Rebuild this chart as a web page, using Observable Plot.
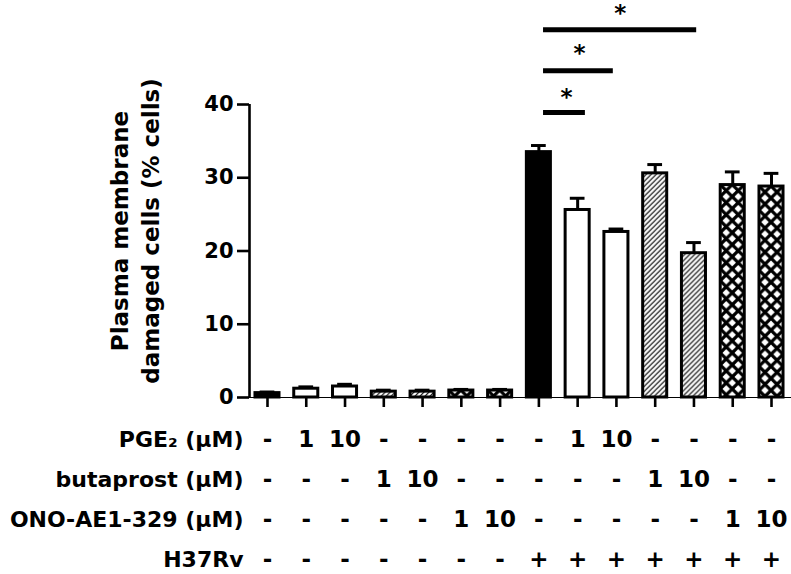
<!DOCTYPE html>
<html><head><meta charset="utf-8">
<script src="https://cdn.jsdelivr.net/npm/d3@7"></script>
<script src="https://cdn.jsdelivr.net/npm/@observablehq/plot@0.6"></script>
<style>
body{margin:0;background:#fff;}
#chart svg{display:block;}
#top [aria-label^="x-axis"] path, #top [aria-label^="x-axis"] line,
#top [aria-label^="y-axis"] path, #top [aria-label^="y-axis"] line {stroke-width:2.6px; stroke:#000;}
</style></head><body><div id="chart"><div id="top"></div><div id="table"></div></div>
<script>
// ---- data ----
const barIndex = [1,2,3,4,5,6,7,8,9,10,11,12,13,14];
const means = [0.6,1.2,1.5,0.8,0.8,0.95,0.95,33.5,25.6,22.6,30.6,19.7,29.0,28.8];
const sems  = [0.15,0.25,0.3,0.2,0.2,0.15,0.15,0.9,1.6,0.4,1.2,1.45,1.8,1.8];
const fillKind = ["solid","open","open","hatch","hatch","cross","cross","solid","open","open","hatch","hatch","cross","cross"];
const pge2      = ["-","1","10","-","-","-","-","-","1","10","-","-","-","-"];
const butaprost = ["-","-","-","1","10","-","-","-","-","-","1","10","-","-"];
const ono       = ["-","-","-","-","-","1","10","-","-","-","-","-","1","10"];
const h37rv     = ["-","-","-","-","-","-","-","+","+","+","+","+","+","+"];
const rowLabels = ["PGE\u2082 (\u00b5M)","butaprost (\u00b5M)","ONO-AE1-329 (\u00b5M)","H37Rv"];
const yTicks = [0,10,20,30,40];
const sigFrom  = [8.12, 8.12, 8.12];
const sigTo    = [9.2, 9.92, 12.07];
const sigLevel = [38.9, 44.6, 50.2];
const starX    = [8.71, 9.05, 10.1];
const starY    = [41.3, 47.3, 52.8];
const yTitle = "Plasma membrane\ndamaged cells (% cells)";

// ---- layout constants ----
const xDomain = [0.536, 14.49];
const yMax = 54.2;
const barHalf = 0.31, capHalf = 0.19;
const font = "DejaVu Sans";

const bars = barIndex.map((i, k) => ({i, mean: means[k], sem: sems[k], kind: fillKind[k]}));
const sig = sigFrom.map((f, k) => ({from: f, to: sigTo[k], level: sigLevel[k], sx: starX[k], sy: starY[k]}));
const fillOf = d => d.kind === "solid" ? "black" : d.kind === "open" ? "white" : `url(#pat${d.i})`;

const chartTop = Plot.plot({
  width: 791, height: 410,
  marginLeft: 249, marginRight: 1, marginTop: 0, marginBottom: 13,
  style: {fontFamily: font, fontSize: "21px", fontWeight: "bold", color: "black", background: "white"},
  color: {type: "identity"},
  x: {domain: xDomain, ticks: barIndex, tickSize: 10, tickFormat: () => "", label: null, line: true},
  y: {domain: [0, yMax], ticks: yTicks, tickSize: 12, tickPadding: 4, label: null},
  marks: [
    Plot.rectY(bars, {x1: d => d.i - barHalf, x2: d => d.i + barHalf, y1: 0, y2: "mean", fill: fillOf, stroke: "black", strokeWidth: 3}),
    Plot.ruleX(bars, {x: "i", y1: "mean", y2: d => d.mean + d.sem, stroke: "black", strokeWidth: 3}),
    Plot.ruleY(bars, {y: d => d.mean + d.sem, x1: d => d.i - capHalf, x2: d => d.i + capHalf, stroke: "black", strokeWidth: 3}),
    Plot.ruleX([xDomain[0]], {y1: 0, y2: yTicks[yTicks.length-1], stroke: "black", strokeWidth: 2.6}),
    Plot.ruleY(sig, {y: "level", x1: "from", x2: "to", stroke: "black", strokeWidth: 5}),
    Plot.text(sig, {x: "sx", y: "sy", text: () => "*", fontSize: 23, fontWeight: "bold", dy: 3}),
    Plot.text([yTitle], {frameAnchor: "left", dx: -116, dy: 32, rotate: -90, textAnchor: "middle", lineAnchor: "middle", lineHeight: 1.35, fontSize: 23, fontWeight: "bold"})
  ]
});
document.getElementById("top").appendChild(chartTop);

// patterns aligned to each bar
const xs = chartTop.scale("x"), ys = chartTop.scale("y");
const defs = d3.select(chartTop).insert("defs", ":first-child");
bars.filter(d => d.kind === "hatch" || d.kind === "cross").forEach(d => {
  const left = xs.apply(d.i - barHalf), right = xs.apply(d.i + barHalf), topY = ys.apply(d.mean);
  if (d.kind === "hatch") {
    const s = 5;
    const p = defs.append("pattern").attr("id", `pat${d.i}`).attr("patternUnits", "userSpaceOnUse")
      .attr("x", left).attr("y", topY).attr("width", s).attr("height", s);
    p.append("rect").attr("width", s).attr("height", s).attr("fill", "white");
    p.append("path").attr("d", `M${-s},${2*s}L${2*s},${-s}M${-s},${s}L${s},${-s}M0,${2*s}L${2*s},0`)
      .attr("stroke", "black").attr("stroke-width", 1.2);
  } else {
    const s = (right - left) / 2;
    const p = defs.append("pattern").attr("id", `pat${d.i}`).attr("patternUnits", "userSpaceOnUse")
      .attr("x", left).attr("y", topY).attr("width", s).attr("height", s);
    p.append("rect").attr("width", s).attr("height", s).attr("fill", "white");
    p.append("path").attr("d", `M-3,-3L${s+3},${s+3}M${s+3},-3L-3,${s+3}`)
      .attr("stroke", "black").attr("stroke-width", 3.2);
  }
});

// ---- treatment table ----
const rows = [pge2, butaprost, ono, h37rv];
const cells = rows.flatMap((r, k) => r.map((v, j) => ({i: barIndex[j], row: rowLabels[k], v})));
const table = Plot.plot({
  width: 791, height: 164,
  marginLeft: 249, marginRight: 1, marginTop: 29, marginBottom: 15,
  style: {fontFamily: font, fontSize: "22px", fontWeight: "bold", color: "black", background: "white"},
  x: {domain: xDomain, axis: null},
  y: {type: "point", domain: rowLabels, padding: 0, tickSize: 0, tickPadding: 6, label: null},
  marks: [
    Plot.text(cells, {x: "i", y: "row", text: "v", fontSize: 23, fontWeight: "bold"})
  ]
});
document.getElementById("table").appendChild(table);
</script></body></html>
